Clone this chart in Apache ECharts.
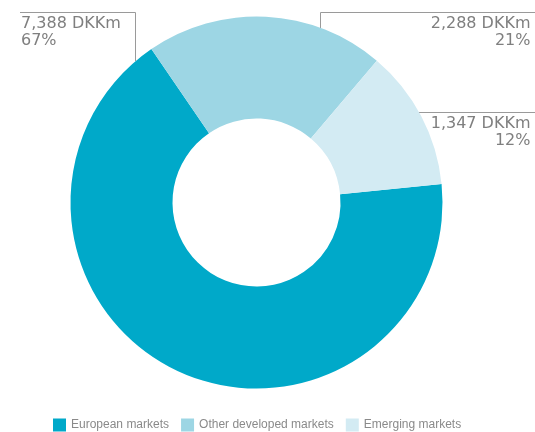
<!DOCTYPE html>
<html><head><meta charset="utf-8">
<script src="https://cdn.jsdelivr.net/npm/echarts@6/dist/echarts.min.js"></script>
<style>html,body{margin:0;padding:0;background:#fff}#c{width:535px;height:432px}</style>
</head><body><div id="c"></div>
<script>
var categories = ['European markets', 'Other developed markets', 'Emerging markets'];
var values = [7388, 2288, 1347];
var unit = 'DKKm';
var colors = ['#00A9C9', '#9DD6E4', '#D3EBF3'];

var labelBoxes = [
  {x: 21, y: 15, align: 'left', pts: [[135.5, 61], [135.5, 12.5], [20, 12.5]]},
  {x: 530.5, y: 15, align: 'right', pts: [[320.5, 28], [320.5, 12.5], [535, 12.5]]},
  {x: 530.5, y: 115, align: 'right', pts: [[418.5, 112.5], [480, 112.5], [535, 112.5]]}
];

var chart = echarts.init(document.getElementById('c'), null, {renderer: 'canvas'});
chart.setOption({
  animation: false,
  color: colors,
  legend: {
    data: categories,
    left: 53, top: 418.5, padding: 0,
    itemWidth: 13, itemHeight: 13, itemGap: 12,
    icon: 'rect',
    textStyle: {color: '#8a8a8a', fontSize: 12, fontFamily: 'Liberation Sans'}
  },
  series: [{
    type: 'pie',
    center: [256.5, 202.5],
    radius: [84, 186],
    startAngle: 5.7,
    clockwise: true,
    avoidLabelOverlap: false,
    data: categories.map(function (c, i) { return {name: c, value: values[i]}; }),
    label: {
      show: true,
      position: 'outside',
      color: '#7f7f7f',
      fontSize: 16,
      lineHeight: 17.5,
      fontFamily: 'DejaVu Sans',
      formatter: function (p) {
        return p.value.toLocaleString('en-US') + ' ' + unit + '\n' + Math.round(p.percent) + '%';
      }
    },
    labelLine: {show: true, lineStyle: {color: '#9a9a9a', width: 1}},
    labelLayout: function (p) {
      var b = labelBoxes[p.dataIndex];
      return {x: b.x, y: b.y, align: b.align, verticalAlign: 'top', labelLinePoints: b.pts};
    },
    emphasis: {disabled: true}
  }]
});
</script></body></html>
